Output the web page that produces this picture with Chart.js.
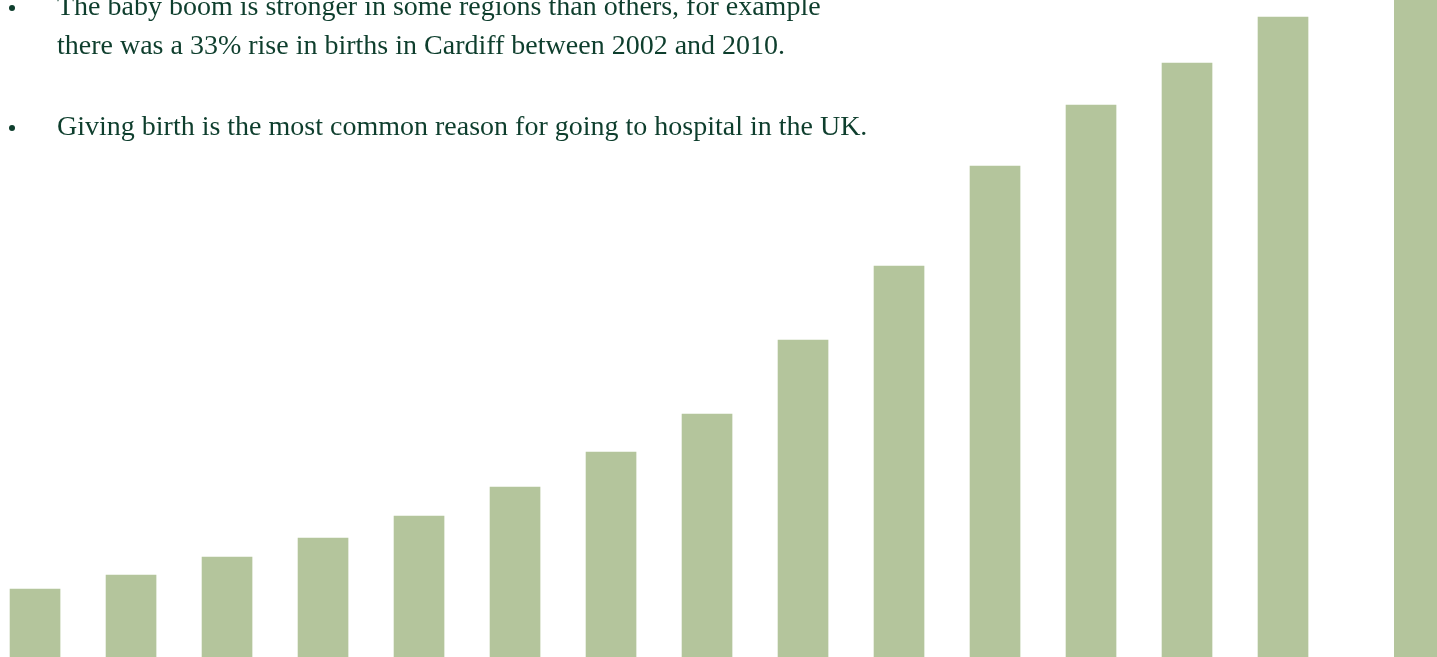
<!DOCTYPE html>
<html>
<head>
<meta charset="utf-8">
<script src="https://cdn.jsdelivr.net/npm/chart.js@4"></script>
<style>
  html, body { margin: 0; padding: 0; background: #fff; overflow: hidden; }
  #wrap { position: absolute; left: 0; top: 0; width: 1437px; height: 657px; }
  .note {
    position: absolute;
    font-family: "Liberation Serif", "DejaVu Serif", serif;
    font-size: 28px;
    line-height: 39px;
    color: #0e3e2d;
    white-space: nowrap;
  }
  .dot { position: absolute; width: 6px; height: 6px; border-radius: 50%; background: #0e3e2d; }
</style>
</head>
<body>
<div id="wrap"><canvas id="chart"></canvas></div>
<span class="dot" style="left:9px; top:5px;"></span>
<div class="note" style="left:57px; top:-14px;">The baby boom is stronger in some regions than others, for example<br>there was a 33% rise in births in Cardiff between 2002 and 2010.</div>
<span class="dot" style="left:9px; top:125px;"></span>
<div class="note" style="left:57px; top:106px;">Giving birth is the most common reason for going to hospital in the UK.</div>
<script>
// bar positions (in slot units) and heights
const slots = [0, 1, 2, 3, 4, 5, 6, 7, 8, 9, 10, 11, 12, 13, 14.42];
const values = [68, 82, 100, 119, 141, 170, 205, 243, 317, 391, 491, 552, 594, 640, 700];

const points = slots.map((s, i) => ({ x: s, y: values[i] }));

new Chart(document.getElementById('chart'), {
    type: 'bar',
    data: {
        datasets: [{
            data: points,
            backgroundColor: '#b4c59c',
            borderWidth: 0,
            barThickness: 50
        }]
    },
    options: {
        responsive: true,
        maintainAspectRatio: false,
        animation: false,
        layout: { padding: 0 },
        plugins: { legend: { display: false }, tooltip: { enabled: false } },
        scales: {
            x: { type: 'linear', display: false, offset: false, min: -0.365, max: 14.604 },
            y: { display: false, min: 0, max: 657 }
        }
    }
});
</script>
</body>
</html>
